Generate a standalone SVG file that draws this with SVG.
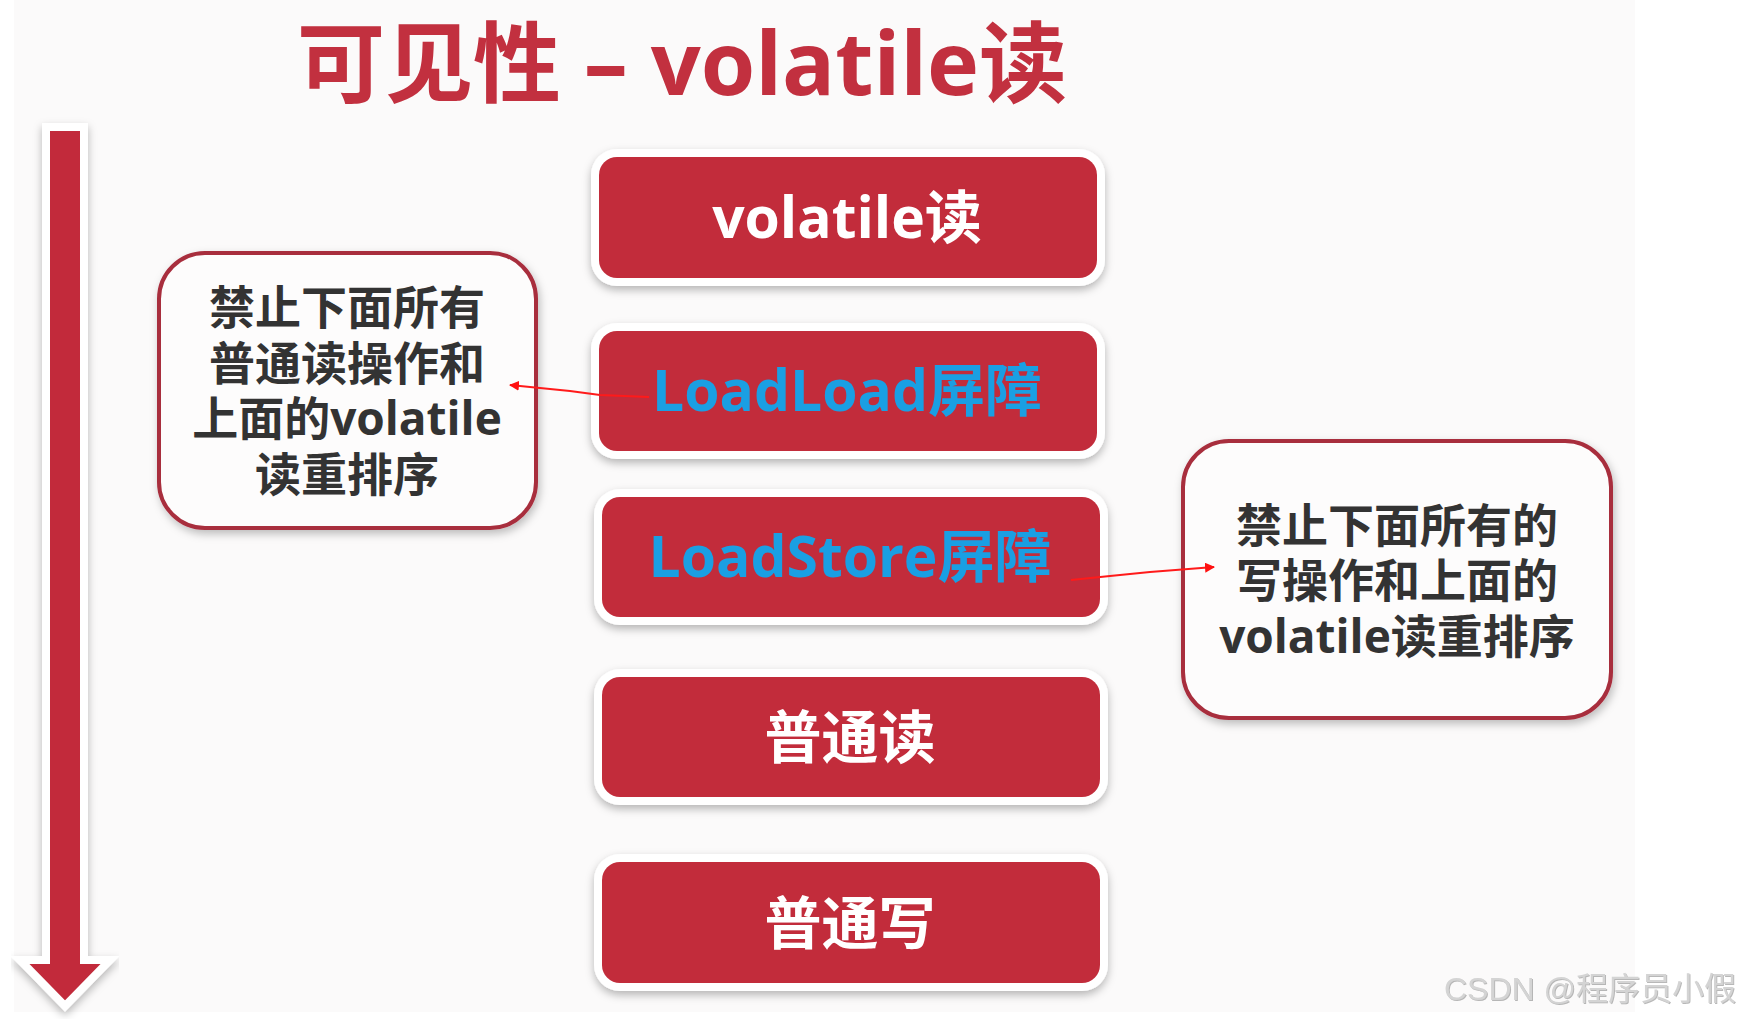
<svg xmlns="http://www.w3.org/2000/svg" width="1739" height="1019" viewBox="0 0 1739 1019">
  <defs>
    <filter id="sh" x="-10%" y="-20%" width="120%" height="150%">
      <feDropShadow dx="0" dy="4" stdDeviation="4" flood-color="#000" flood-opacity="0.28"/>
    </filter>
    <filter id="sh2" x="-10%" y="-10%" width="120%" height="120%">
      <feDropShadow dx="2" dy="4" stdDeviation="4" flood-color="#000" flood-opacity="0.25"/>
    </filter>
    <filter id="wm" x="-5%" y="-20%" width="110%" height="140%">
      <feDropShadow dx="1" dy="1" stdDeviation="0.6" flood-color="#888" flood-opacity="0.6"/>
    </filter>
    <marker id="ah" viewBox="0 0 10 10" refX="9" refY="5" markerWidth="10" markerHeight="10" markerUnits="userSpaceOnUse" orient="auto">
      <path d="M0,0 L10,5 L0,10 z" fill="#ff1010"/>
    </marker>
  </defs>
  <style>
    .bg { fill: #fbfafa; }
    .outer { fill: #ffffff; filter: url(#sh); }
    .red { fill: #c22c3b; }
    .callout { fill: #fdfcfc; stroke: #a82d3d; stroke-width: 4; filter: url(#sh2); }
    .t { font-family: "Open Sans", "Noto Sans CJK SC", sans-serif; font-weight: bold; text-anchor: middle; }
    .white { fill: #ffffff; }
    .blue { fill: #1a9fe3; }
    .big { font-size: 57px; }
    .dark { fill: #333333; font-size: 46px; }
    .title { fill: #c2303f; font-size: 88px; }
    .conn { stroke: #ff1a1a; stroke-width: 2; fill: none; }
    .wmk { font-family: "Liberation Sans", "Noto Sans CJK SC", sans-serif; font-size: 32px; fill: #d4d4d4; filter: url(#wm); }
  </style>

  <rect x="0" y="0" width="1739" height="1019" fill="#ffffff"/>
  <rect class="bg" x="14" y="0" width="1621" height="1012"/>

  <g id="title">
    <text class="t title" x="682" y="95">可见性 – volatile读</text>
  </g>

  <g id="timeline-arrow">
    <path d="M46,127 L84,127 L84,960 L110,960 L65,1006 L20,960 L46,960 Z" fill="#c22c3b" stroke="#ffffff" stroke-width="8" stroke-linejoin="miter" filter="url(#sh)"/>
  </g>

  <g id="node-volatile-read">
    <rect class="outer" x="591" y="149" width="514" height="137" rx="26"/>
    <rect class="red" x="599" y="157" width="498" height="121" rx="18"/>
    <text class="t white big" x="847" y="238">volatile读</text>
  </g>

  <g id="node-loadload">
    <rect class="outer" x="591" y="323" width="514" height="136" rx="26"/>
    <rect class="red" x="599" y="331" width="498" height="120" rx="18"/>
    <text class="t blue big" x="847" y="411">LoadLoad屏障</text>
  </g>

  <g id="node-loadstore">
    <rect class="outer" x="594" y="489" width="514" height="136" rx="26"/>
    <rect class="red" x="602" y="497" width="498" height="120" rx="18"/>
    <text class="t blue big" x="850" y="577">LoadStore屏障</text>
  </g>

  <g id="node-normal-read">
    <rect class="outer" x="594" y="669" width="514" height="136" rx="26"/>
    <rect class="red" x="602" y="677" width="498" height="120" rx="18"/>
    <text class="t white big" x="850" y="758">普通读</text>
  </g>

  <g id="node-normal-write">
    <rect class="outer" x="594" y="854" width="514" height="137" rx="26"/>
    <rect class="red" x="602" y="862" width="498" height="121" rx="18"/>
    <text class="t white big" x="850" y="944">普通写</text>
  </g>

  <g id="note-left">
    <rect class="callout" x="159" y="253" width="377" height="275" rx="46"/>
    <text class="t dark" x="347" y="324">禁止下面所有</text>
    <text class="t dark" x="347" y="380">普通读操作和</text>
    <text class="t dark" x="347" y="435">上面的volatile</text>
    <text class="t dark" x="347" y="491">读重排序</text>
  </g>

  <g id="note-right">
    <rect class="callout" x="1183" y="441" width="428" height="277" rx="46"/>
    <text class="t dark" x="1397" y="542">禁止下面所有的</text>
    <text class="t dark" x="1397" y="597">写操作和上面的</text>
    <text class="t dark" x="1397" y="653">volatile读重排序</text>
  </g>

  <g id="connectors">
    <polyline class="conn" points="649,397 600,395 570,391 530,387 510,385" marker-end="url(#ah)"/>
    <polyline class="conn" points="1071,580 1110,576 1150,572 1214,567" marker-end="url(#ah)"/>
  </g>

  <g id="watermark">
    <text class="wmk" x="1444" y="1000">CSDN @程序员小假</text>
  </g>
</svg>
